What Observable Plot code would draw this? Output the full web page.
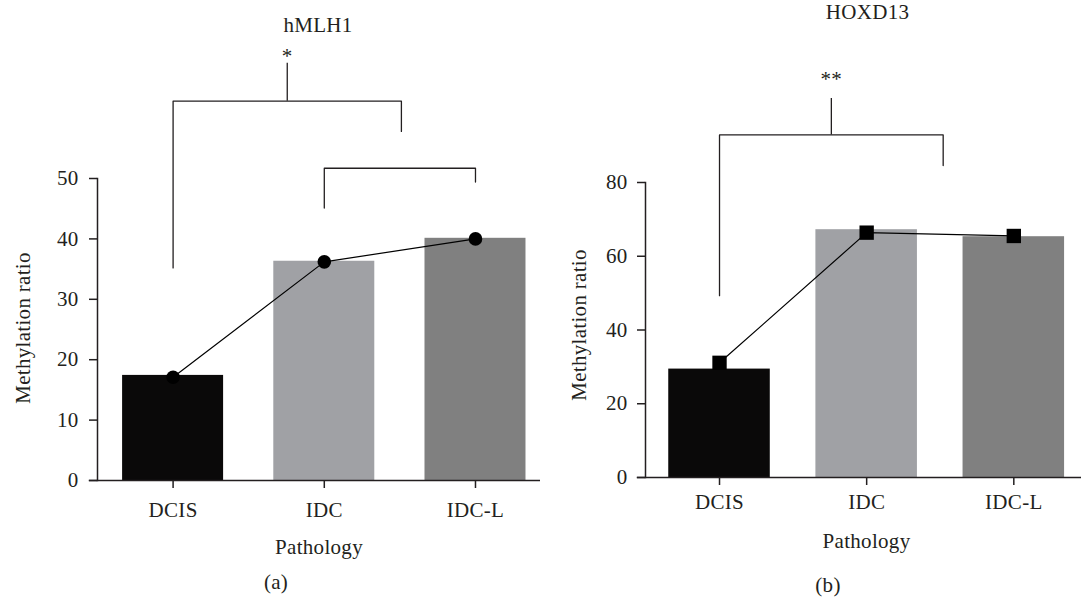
<!DOCTYPE html>
<html>
<head>
<meta charset="utf-8">
<script src="https://cdn.jsdelivr.net/npm/d3@7"></script>
<script src="https://cdn.jsdelivr.net/npm/@observablehq/plot@0.6"></script>
<style>
  html, body { margin: 0; padding: 0; background: #fff; }
  #wrap { display: flex; width: 1081px; height: 604px; overflow: hidden; }
</style>
</head>
<body>
<div id="wrap"></div>
<script>
// ---- data ----
const categories = ["DCIS", "IDC", "IDC-L"];
const hmlh1Bars = [17.4, 36.3, 40.1];
const hmlh1Points = [17.1, 36.2, 40.0];
const hoxd13Bars = [29.4, 67.2, 65.3];
const hoxd13Points = [31.1, 66.4, 65.5];
const hmlh1Ticks = [0, 10, 20, 30, 40, 50];
const hoxd13Ticks = [0, 20, 40, 60, 80];
const barColors = ["#0a0909", "#a0a1a5", "#808080"];
// significance brackets (x in category index units, y in data units)
const hmlh1Brackets = [
  {x1: 0, x2: 1.51, yLeft: 35.2, yTop: 62.8, yRight: 57.8, yStem: 69.1, label: "*", labelY: 70.3},
  {x1: 1, x2: 2, yLeft: 45.1, yTop: 51.7, yRight: 49.4}
];
const hoxd13Brackets = [
  {x1: 0, x2: 1.52, yLeft: 49.3, yTop: 92.9, yRight: 84.6, yStem: 102.8, label: "**", labelY: 107.9}
];

const ink = "#231f20";
const FS = 21;

function panel(o) {
  const bars = o.bars.map((v, i) => ({i, v, cat: categories[i]}));
  const pts = o.points.map((v, i) => ({i, v}));
  const txt = {fontSize: FS, fill: ink, textAnchor: "middle", lineAnchor: "middle", text: d => d};
  const marks = [
    Plot.rectY(bars, {x1: d => d.i - o.hw, x2: d => d.i + o.hw, y: "v", fill: d => barColors[d.i]}),
    Plot.frame({anchor: "left", stroke: ink, strokeWidth: 1.5}),
    Plot.frame({anchor: "bottom", stroke: ink, strokeWidth: 1.5, insetLeft: -8}),
    Plot.axisY({ticks: o.ticks, tickSize: 8, tickPadding: o.yPad, label: null, stroke: ink, strokeWidth: 1.5, fontSize: FS}),
    Plot.axisX({ticks: [0, 1, 2], tickFormat: i => categories[i], tickSize: 8, tickPadding: o.xPad, label: null, stroke: ink, strokeWidth: 1.5, fontSize: FS}),
    Plot.line(pts, {x: "i", y: "v", stroke: "#000", strokeWidth: 1.2}),
    o.square
      ? Plot.dot(pts, {x: "i", y: "v", symbol: "square", r: 8.1, fill: "#000", stroke: null})
      : Plot.dot(pts, {x: "i", y: "v", r: 6.8, fill: "#000", stroke: null})
  ];
  for (const b of o.brackets) {
    marks.push(Plot.line([[b.x1, b.yLeft], [b.x1, b.yTop], [b.x2, b.yTop], [b.x2, b.yRight]], {stroke: ink, strokeWidth: 1.3}));
    if (b.yStem != null) {
      const mid = (b.x1 + b.x2) / 2;
      marks.push(Plot.ruleX([mid], {y1: b.yTop, y2: b.yStem, stroke: ink, strokeWidth: 1.3}));
      marks.push(Plot.text([b.label], {...txt, x: mid, y: b.labelY}));
    }
  }
  marks.push(Plot.text([o.title], {...txt, frameAnchor: "top", dy: o.titleDy, dx: o.titleDx}));
  marks.push(Plot.text(["Pathology"], {...txt, frameAnchor: "bottom", dy: o.xlabDy, dx: o.xlabDx}));
  marks.push(Plot.text(["Methylation ratio"], {...txt, frameAnchor: "left", rotate: -90, dx: o.ylabDx, dy: o.ylabDy}));
  marks.push(Plot.text([o.caption], {...txt, frameAnchor: "bottom", dy: o.capDy, dx: o.capDx}));

  return Plot.plot({
    width: o.width,
    height: 604,
    marginLeft: o.ml, marginRight: o.mr, marginTop: o.mt, marginBottom: o.mb,
    x: {type: "linear", domain: o.xdomain, axis: null},
    y: {domain: o.ydomain, axis: null},
    style: {fontFamily: "'Liberation Serif', serif", fontSize: FS + "px", letterSpacing: "0.3px", color: ink, background: "#fff", overflow: "visible"},
    marks
  });
}

const a = panel({
  width: 540, ml: 97, mr: 0, mt: 178, mb: 124,
  xdomain: [-0.5, 2.43], ydomain: [0, 50], ticks: hmlh1Ticks, yPad: 11, xPad: 13.5,
  bars: hmlh1Bars, points: hmlh1Points, hw: 0.334, square: false,
  brackets: hmlh1Brackets,
  title: "hMLH1", titleDy: -153, titleDx: -1,
  xlabDy: 66.7, xlabDx: 0,
  ylabDx: -74.6, ylabDy: -1.5,
  caption: "(a)", capDy: 101.7, capDx: -43
});
const b = panel({
  width: 541, ml: 105, mr: 0, mt: 182, mb: 127,
  xdomain: [-0.503, 2.46], ydomain: [0, 80], ticks: hoxd13Ticks, yPad: 10, xPad: 9,
  bars: hoxd13Bars, points: hoxd13Points, hw: 0.345, square: true,
  brackets: hoxd13Brackets,
  title: "HOXD13", titleDy: -170.3, titleDx: 4,
  xlabDy: 63.3, xlabDx: 3,
  ylabDx: -66, ylabDy: -5,
  caption: "(b)", capDy: 107.3, capDx: -35.5
});
document.getElementById("wrap").append(a, b);
</script>
</body>
</html>
